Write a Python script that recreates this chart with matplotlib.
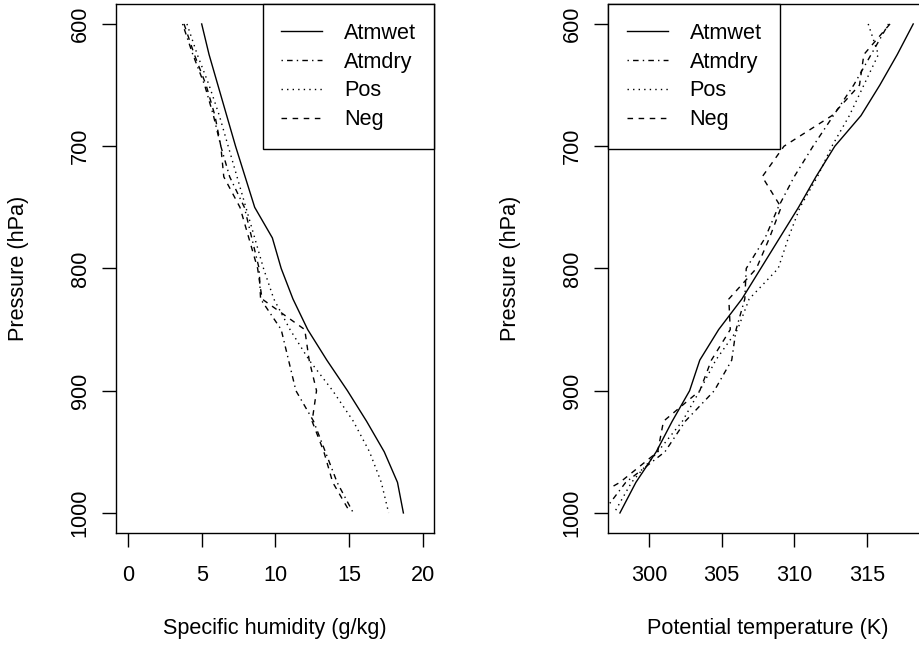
import matplotlib
matplotlib.use("Agg")
import matplotlib.pyplot as plt

plt.rcParams['font.family'] = ['Liberation Sans', 'DejaVu Sans']
plt.rcParams['font.size'] = 15.6

# pressure levels (hPa)
pres = [600, 625, 650, 675, 700, 725, 750, 775, 800, 825, 850, 875, 900, 925, 950, 975, 1000]

# specific humidity (g/kg)
q_atmwet = [5.0, 5.5, 6.1, 6.7, 7.3, 7.95, 8.6, 9.8, 10.4, 11.2, 12.2, 13.5, 14.9, 16.2, 17.4, 18.3, 18.7]
q_atmdry = [3.7, 4.4, 5.2, 5.8, 6.3, 6.9, 7.9, 8.4, 8.9, 9.0, 10.4, 10.9, 11.4, 12.6, 13.4, 14.2, 15.3]
q_pos = [4.0, 4.7, 5.5, 6.2, 6.8, 7.4, 8.0, 8.6, 9.2, 9.9, 11.0, 12.3, 13.9, 15.3, 16.4, 17.2, 17.7]
q_neg = [3.8, 4.5, 5.3, 5.9, 6.3, 6.5, 7.6, 8.2, 8.8, 9.1, 12.0, 12.3, 12.8, 12.5, 13.3, 13.9, 15.1]

# potential temperature (K)
t_atmwet = [318.2, 317.1, 315.9, 314.6, 312.8, 311.5, 310.3, 309.0, 307.7, 306.4, 304.8, 303.5, 302.8, 301.6, 300.5, 299.1, 298.0]
t_atmdry = [316.5, 315.3, 314.1, 312.7, 311.3, 310.0, 308.9, 308.0, 306.7, 306.6, 306.0, 305.7, 304.5, 302.5, 301.1, 298.4, 296.8]
t_pos = [315.1, 315.8, 314.8, 313.8, 312.6, 311.6, 310.4, 309.6, 308.9, 306.9, 306.1, 304.6, 303.5, 302.3, 300.6, 298.8, 297.6]
t_neg = [316.6, 314.8, 314.5, 312.6, 309.3, 307.8, 309.1, 308.3, 307.4, 305.5, 305.6, 304.3, 303.5, 301.0, 300.6, 298.0, 294.3]

names = ["Atmwet", "Atmdry", "Pos", "Neg"]
dashes = [None, (1, 3, 4, 3), (1, 3), (4, 4)]

fig = plt.figure(figsize=(9.2, 6.48), dpi=100)
ax1 = fig.add_axes([116.3 / 920, 115.5 / 648, 318 / 920, 528.1 / 648])
ax2 = fig.add_axes([608.3 / 920, 115.5 / 648, 318 / 920, 528.1 / 648])


def draw(ax, series, xlab, xlim, xticks):
    for vals, name, d in zip(series, names, dashes):
        line, = ax.plot(vals, pres, color="black", lw=1, label=name)
        if d is not None:
            line.set_dashes(d)
    ax.set_xlim(*xlim)
    ax.set_ylim(1016, 584)
    ax.set_xticks(xticks)
    ax.set_yticks([600, 700, 800, 900, 1000])
    ax.tick_params(axis="both", direction="out", length=10.4, width=1, color="black")
    ax.tick_params(axis="x", pad=13)
    ax.tick_params(axis="y", pad=8)
    plt.setp(ax.get_yticklabels(), rotation=90, va="center")
    for s in ax.spines.values():
        s.set_linewidth(1)
        s.set_color("black")
    ax.set_xlabel(xlab)
    ax.set_ylabel("Pressure (hPa)")
    ax.xaxis.set_label_coords(0.5, -0.181)
    ax.xaxis.label.set_va("center")
    ax.yaxis.set_label_coords(-0.306, 0.5)
    ax.yaxis.label.set_va("center")


draw(ax1, [q_atmwet, q_atmdry, q_pos, q_neg], "Specific humidity (g/kg)", (-0.8, 20.8), [0, 5, 10, 15, 20])
draw(ax2, [t_atmwet, t_atmdry, t_pos, t_neg], "Potential temperature (K)", (297.2, 319.1), [300, 305, 310, 315])

for ax, loc in [(ax1, "upper right"), (ax2, "upper left")]:
    leg = ax.legend(loc=loc, borderaxespad=0, fancybox=False, edgecolor="black",
                    framealpha=1, handlelength=1.9, handletextpad=1.0,
                    borderpad=0.85, labelspacing=0.36)
    leg.get_frame().set_linewidth(1)

fig.savefig("out.png", dpi=100)
